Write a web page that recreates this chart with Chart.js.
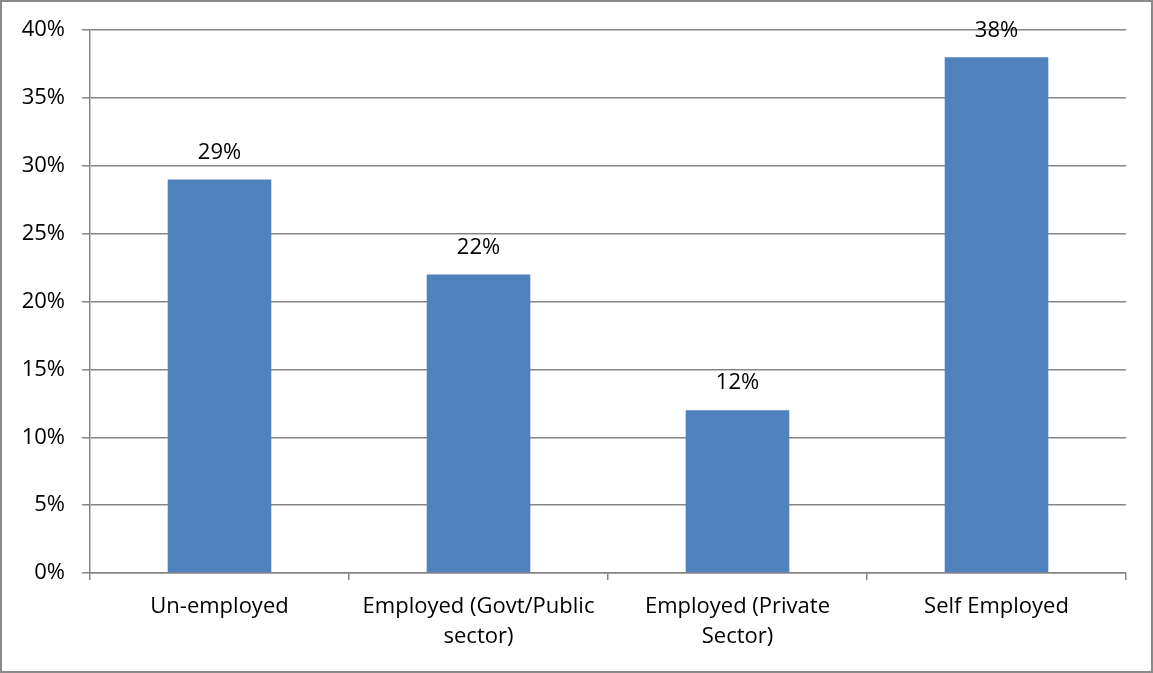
<!DOCTYPE html>
<html>
<head>
<meta charset="utf-8">
<script src="https://cdn.jsdelivr.net/npm/chart.js@4"></script>
<style>
  html, body { margin: 0; padding: 0; background: #fff; }
  #wrap { position: absolute; left: 0; top: 0; width: 1153px; height: 673px; }
</style>
</head>
<body>
<div id="wrap"><canvas id="empChart" width="1153" height="673"></canvas></div>
<script>
// categorias y valores (%)
const categories = [
    'Un-employed',
    ['Employed (Govt/Public', 'sector)'],
    ['Employed (Private', 'Sector)'],
    'Self Employed'
];
const shares = [29, 22, 12, 38];
const yTicks = [0, 5, 10, 15, 20, 25, 30, 35, 40];

const gridGray = '#858585';
const fontFam = '"Open Sans", sans-serif';
const fontSize = 22;

// etiquetas encima de las barras
const valueLabels = {
    id: 'valueLabels',
    afterDatasetsDraw(chart) {
        const c = chart.ctx;
        const meta = chart.getDatasetMeta(0);
        c.save();
        c.font = fontSize + 'px ' + fontFam;
        c.fillStyle = '#000';
        c.textAlign = 'center';
        c.textBaseline = 'middle';
        meta.data.forEach((bar, i) => {
            c.fillText(shares[i] + '%', bar.x, bar.y - 27);
        });
        c.restore();
    }
};

// borde gris del cuadro
const frame = {
    id: 'frame',
    afterDraw(chart) {
        const c = chart.ctx;
        c.save();
        c.strokeStyle = '#898989';
        c.lineWidth = 2;
        c.strokeRect(1, 1, chart.width - 2, chart.height - 2);
        c.restore();
    }
};

const ctx = document.getElementById('empChart').getContext('2d');
new Chart(ctx, {
    type: 'bar',
    data: {
        labels: categories,
        datasets: [{
            data: shares,
            backgroundColor: '#4F81BD',
            barPercentage: 0.4,
            categoryPercentage: 1
        }]
    },
    options: {
        responsive: false,
        animation: false,
        layout: { padding: { top: 30, right: 27, left: 0, bottom: 0 } },
        plugins: {
            legend: { display: false },
            tooltip: { enabled: false }
        },
        scales: {
            y: {
                min: 0,
                max: 40,
                afterFit(scale) { scale.width = 90; },
                afterBuildTicks(scale) { scale.ticks = yTicks.map(v => ({ value: v })); },
                border: { color: gridGray, width: 1.5 },
                grid: { color: gridGray, lineWidth: 1.5, tickLength: 8 },
                ticks: {
                    color: '#000',
                    padding: 17,
                    font: { family: fontFam, size: fontSize },
                    callback: v => v + '%'
                }
            },
            x: {
                afterFit(scale) { scale.height = 100; },
                border: { color: gridGray, width: 1.5 },
                grid: { display: true, drawOnChartArea: false, color: gridGray, lineWidth: 1.5, tickLength: 7, offset: true },
                ticks: {
                    color: '#000',
                    padding: 11,
                    maxRotation: 0,
                    autoSkip: false,
                    font: { family: fontFam, size: fontSize, lineHeight: 1.4 }
                }
            }
        }
    },
    plugins: [valueLabels, frame]
});
</script>
</body>
</html>
